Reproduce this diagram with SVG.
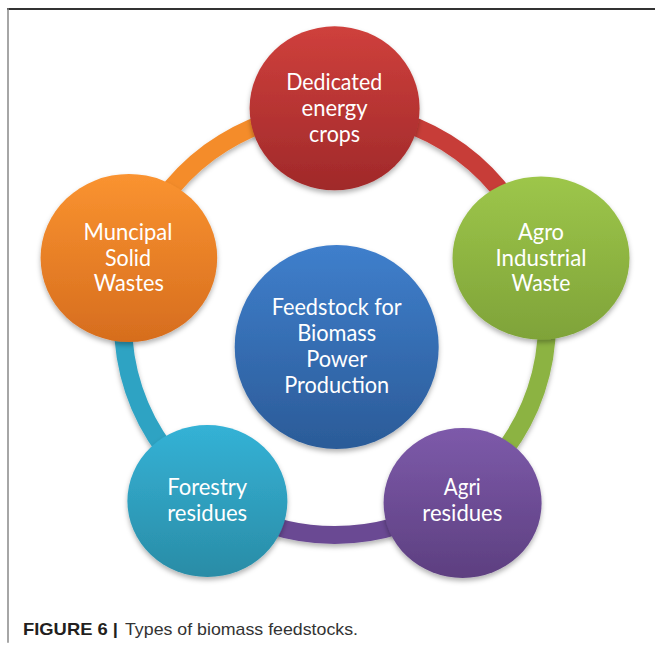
<svg xmlns="http://www.w3.org/2000/svg" width="655" height="647" viewBox="0 0 655 647">
<defs>
<linearGradient id="gRed" x1="0" y1="0" x2="0" y2="1"><stop offset="0" stop-color="#CF403C"/><stop offset="1" stop-color="#A0292A"/></linearGradient>
<linearGradient id="gGreen" x1="0" y1="0" x2="0" y2="1"><stop offset="0" stop-color="#9DC64A"/><stop offset="1" stop-color="#7FA339"/></linearGradient>
<linearGradient id="gPurple" x1="0" y1="0" x2="0" y2="1"><stop offset="0" stop-color="#7D5AAA"/><stop offset="1" stop-color="#5D3F80"/></linearGradient>
<linearGradient id="gTeal" x1="0" y1="0" x2="0" y2="1"><stop offset="0" stop-color="#34B2D6"/><stop offset="1" stop-color="#2A8CA6"/></linearGradient>
<linearGradient id="gOrange" x1="0" y1="0" x2="0" y2="1"><stop offset="0" stop-color="#FA9330"/><stop offset="1" stop-color="#D66D1E"/></linearGradient>
<linearGradient id="gBlue" x1="0" y1="0" x2="0" y2="1"><stop offset="0" stop-color="#3F7FCC"/><stop offset="1" stop-color="#2B5B98"/></linearGradient>
<filter id="sh" x="-20%" y="-20%" width="140%" height="150%">
<feDropShadow dx="0" dy="3" stdDeviation="2.5" flood-color="#000" flood-opacity="0.3"/>
</filter>
</defs>
<style>
.band{fill:none;stroke-width:18;}
.lbl{font-family:Lato,"Liberation Sans",sans-serif;font-size:22.5px;fill:#fff;text-anchor:middle;}
.frame{stroke-linecap:square;fill:none;}
</style>
<rect width="655" height="647" fill="#fff"/>
<line class="frame" x1="8" y1="9" x2="655" y2="9" stroke="#333" stroke-width="2"/>
<line class="frame" x1="8" y1="9" x2="8" y2="642" stroke="#888" stroke-width="1.5"/>

<g id="connectors" filter="url(#sh)">
<path class="band" stroke="#C73C38" d="M335,111 A212,212 0 0 1 537.2,259.3"/>
<path class="band" stroke="#8CB342" d="M537.2,259.3 A212,212 0 0 1 457.8,495.8"/>
<path class="band" stroke="#6A4A93" d="M457.8,495.8 A212,212 0 0 1 211.3,495.2"/>
<path class="band" stroke="#2FA3C3" d="M211.3,495.2 A212,212 0 0 1 132.8,259.3"/>
<path class="band" stroke="#F48C2C" d="M132.8,259.3 A212,212 0 0 1 335,111"/>
</g>

<g id="node-center">
<ellipse cx="336.7" cy="347" rx="102" ry="102" fill="url(#gBlue)" filter="url(#sh)"/>
<text class="lbl" x="336.7" y="315" textLength="130" lengthAdjust="spacingAndGlyphs">Feedstock for</text>
<text class="lbl" x="336.7" y="341" textLength="79" lengthAdjust="spacingAndGlyphs">Biomass</text>
<text class="lbl" x="336.7" y="367" textLength="61" lengthAdjust="spacingAndGlyphs">Power</text>
<text class="lbl" x="336.7" y="393" textLength="105" lengthAdjust="spacingAndGlyphs">Production</text>
</g>

<g id="node-dedicated">
<ellipse cx="334.6" cy="108.3" rx="85" ry="82" fill="url(#gRed)" filter="url(#sh)"/>
<text class="lbl" x="334.2" y="89.5" textLength="96" lengthAdjust="spacingAndGlyphs">Dedicated</text>
<text class="lbl" x="334.6" y="115.5" textLength="66" lengthAdjust="spacingAndGlyphs">energy</text>
<text class="lbl" x="334.6" y="141.5" textLength="51" lengthAdjust="spacingAndGlyphs">crops</text>
</g>

<g id="node-agro">
<ellipse cx="541" cy="258" rx="88.5" ry="81.5" fill="url(#gGreen)" filter="url(#sh)"/>
<text class="lbl" x="541" y="239.5" textLength="46" lengthAdjust="spacingAndGlyphs">Agro</text>
<text class="lbl" x="541" y="265.5" textLength="91" lengthAdjust="spacingAndGlyphs">Industrial</text>
<text class="lbl" x="541" y="291" textLength="59" lengthAdjust="spacingAndGlyphs">Waste</text>
</g>

<g id="node-agri">
<ellipse cx="462.6" cy="503" rx="79" ry="75" fill="url(#gPurple)" filter="url(#sh)"/>
<text class="lbl" x="462.3" y="495" textLength="37" lengthAdjust="spacingAndGlyphs">Agri</text>
<text class="lbl" x="462.3" y="521" textLength="80" lengthAdjust="spacingAndGlyphs">residues</text>
</g>

<g id="node-forestry">
<ellipse cx="207.4" cy="501" rx="80" ry="76" fill="url(#gTeal)" filter="url(#sh)"/>
<text class="lbl" x="207.2" y="495" textLength="80" lengthAdjust="spacingAndGlyphs">Forestry</text>
<text class="lbl" x="207.2" y="521" textLength="80" lengthAdjust="spacingAndGlyphs">residues</text>
</g>

<g id="node-municipal">
<ellipse cx="128.9" cy="258" rx="88.3" ry="84" fill="url(#gOrange)" filter="url(#sh)"/>
<text class="lbl" x="128" y="239.5" textLength="89" lengthAdjust="spacingAndGlyphs">Muncipal</text>
<text class="lbl" x="128" y="265.5" textLength="46" lengthAdjust="spacingAndGlyphs">Solid</text>
<text class="lbl" x="128.8" y="291" textLength="70" lengthAdjust="spacingAndGlyphs">Wastes</text>
</g>

<g id="caption">
<text x="23" y="635" font-family="'Liberation Sans',Arial,sans-serif" font-size="17" font-weight="bold" fill="#231F20" textLength="95" lengthAdjust="spacingAndGlyphs">FIGURE 6 |</text>
<text x="125" y="635" font-family="'Liberation Sans',Arial,sans-serif" font-size="17" fill="#333" textLength="233" lengthAdjust="spacingAndGlyphs">Types of biomass feedstocks.</text>
</g>
</svg>
